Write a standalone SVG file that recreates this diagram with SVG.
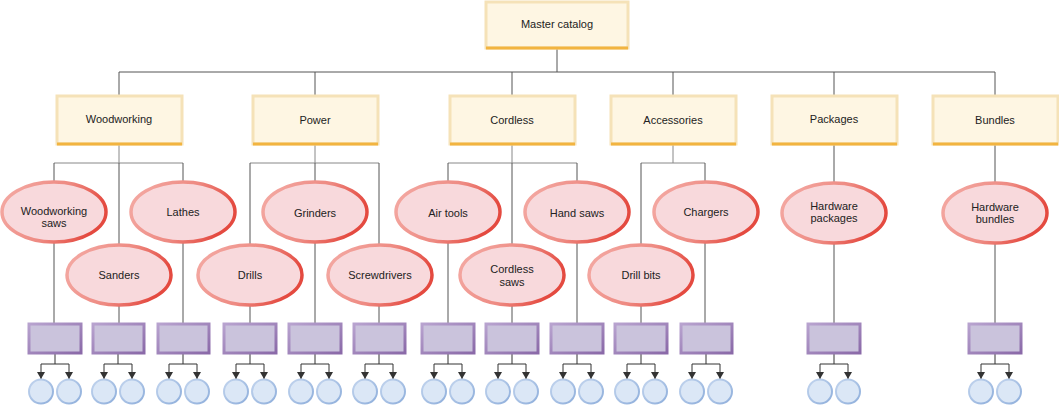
<svg xmlns="http://www.w3.org/2000/svg" width="1059" height="406" viewBox="0 0 1059 406">
<defs>
<linearGradient id="gEll" x1="0" y1="0" x2="1" y2="0.3">
<stop offset="0" stop-color="#f4aca6"/><stop offset="0.6" stop-color="#ee8a82"/><stop offset="1" stop-color="#e44a40"/>
</linearGradient>
<linearGradient id="gPur" x1="0" y1="0" x2="1" y2="1">
<stop offset="0" stop-color="#b8a3cf"/><stop offset="1" stop-color="#8a69a8"/>
</linearGradient>
<linearGradient id="gCir" x1="0" y1="0" x2="1" y2="1">
<stop offset="0" stop-color="#c3d5ee"/><stop offset="1" stop-color="#8eaedb"/>
</linearGradient>
<marker id="arr" viewBox="0 0 8 8" refX="4" refY="8" markerWidth="8" markerHeight="8" markerUnits="userSpaceOnUse" orient="auto-start-reverse">
<path d="M0,0 L8,0 L4,8 Z" fill="#333" transform="rotate(-90 4 4)"/>
</marker>
<marker id="ah" viewBox="0 0 8 7" refX="4" refY="7" markerWidth="8" markerHeight="7" markerUnits="userSpaceOnUse" orient="0">
<path d="M0,0 L8,0 L4,7 Z" fill="#333"/>
</marker>
</defs>
<style>
.t{font-family:"Liberation Sans",Arial,Helvetica,sans-serif;font-size:11px;fill:#222;text-anchor:middle;dominant-baseline:central}
.yb{fill:#fef6e3;stroke:#f5e2b8;stroke-width:3}
.yl{stroke:#f2b440;stroke-width:3}
.el{fill:#f8d9dc;stroke:url(#gEll);stroke-width:3.5}
.pb{fill:#cac3dc;stroke:url(#gPur);stroke-width:3}
.ci{fill:#dbe7f6;stroke:url(#gCir);stroke-width:2}
.c{fill:none;stroke:#555;stroke-width:1}
.cg{fill:none;stroke:#888;stroke-width:1}
.ca{fill:none;stroke:#333;stroke-width:1}
</style>
<g id="connectors">
<path class="c" d="M557,49 V72 M119,72 H995 M119,72 V95 M315,72 V95 M512,72 V95 M673,72 V95 M834,72 V95 M995,72 V95"/>
<path class="cg" d="M119,145 V163 M54,163 H183 M315,145 V163 M250,163 H379 M512,145 V163 M448,163 H577 M673,145 V163 M641,163 H705"/>
<path class="c" d="M54,163 V323 M119,163 V323 M183,163 V323 M250,163 V323 M315,163 V323 M379,163 V323 M448,163 V323 M512,163 V323 M577,163 V323 M641,163 V323 M705,163 V323 M834,145 V323 M995,145 V323"/>
<g id="fanouts" class="ca">
<path d="M55,354 V364 M41,364 H69"/><path d="M41,364 V379" marker-end="url(#ah)"/><path d="M69,364 V379" marker-end="url(#ah)"/>
<path d="M118,354 V364 M104,364 H132"/><path d="M104,364 V379" marker-end="url(#ah)"/><path d="M132,364 V379" marker-end="url(#ah)"/>
<path d="M183,354 V364 M169,364 H197"/><path d="M169,364 V379" marker-end="url(#ah)"/><path d="M197,364 V379" marker-end="url(#ah)"/>
<path d="M250,354 V364 M236,364 H264"/><path d="M236,364 V379" marker-end="url(#ah)"/><path d="M264,364 V379" marker-end="url(#ah)"/>
<path d="M315,354 V364 M301,364 H329"/><path d="M301,364 V379" marker-end="url(#ah)"/><path d="M329,364 V379" marker-end="url(#ah)"/>
<path d="M379,354 V364 M365,364 H393"/><path d="M365,364 V379" marker-end="url(#ah)"/><path d="M393,364 V379" marker-end="url(#ah)"/>
<path d="M448,354 V364 M434,364 H462"/><path d="M434,364 V379" marker-end="url(#ah)"/><path d="M462,364 V379" marker-end="url(#ah)"/>
<path d="M512,354 V364 M498,364 H526"/><path d="M498,364 V379" marker-end="url(#ah)"/><path d="M526,364 V379" marker-end="url(#ah)"/>
<path d="M577,354 V364 M563,364 H591"/><path d="M563,364 V379" marker-end="url(#ah)"/><path d="M591,364 V379" marker-end="url(#ah)"/>
<path d="M641,354 V364 M627,364 H655"/><path d="M627,364 V379" marker-end="url(#ah)"/><path d="M655,364 V379" marker-end="url(#ah)"/>
<path d="M706,354 V364 M692,364 H720"/><path d="M692,364 V379" marker-end="url(#ah)"/><path d="M720,364 V379" marker-end="url(#ah)"/>
<path d="M834,354 V364 M820,364 H848"/><path d="M820,364 V379" marker-end="url(#ah)"/><path d="M848,364 V379" marker-end="url(#ah)"/>
<path d="M995,354 V364 M981,364 H1009"/><path d="M981,364 V379" marker-end="url(#ah)"/><path d="M1009,364 V379" marker-end="url(#ah)"/>
</g>
</g>
<g id="master"><rect class="yb" x="486" y="2" width="142" height="46"/><line class="yl" x1="486" y1="48" x2="628" y2="48"/><text class="t" x="557" y="24">Master catalog</text></g>
<g id="woodworking"><rect class="yb" x="57" y="96" width="125" height="48"/><line class="yl" x1="57" y1="144" x2="182" y2="144"/><text class="t" x="119" y="119">Woodworking</text></g>
<g id="power"><rect class="yb" x="253" y="96" width="125" height="48"/><line class="yl" x1="253" y1="144" x2="378" y2="144"/><text class="t" x="315" y="120">Power</text></g>
<g id="cordless"><rect class="yb" x="450" y="96" width="125" height="48"/><line class="yl" x1="450" y1="144" x2="575" y2="144"/><text class="t" x="512" y="120">Cordless</text></g>
<g id="accessories"><rect class="yb" x="611" y="96" width="125" height="48"/><line class="yl" x1="611" y1="144" x2="736" y2="144"/><text class="t" x="673" y="120">Accessories</text></g>
<g id="packages"><rect class="yb" x="772" y="96" width="125" height="48"/><line class="yl" x1="772" y1="144" x2="897" y2="144"/><text class="t" x="834" y="119">Packages</text></g>
<g id="bundles"><rect class="yb" x="933" y="96" width="125" height="48"/><line class="yl" x1="933" y1="144" x2="1058" y2="144"/><text class="t" x="995" y="120">Bundles</text></g>
<g id="woodworking-saws"><ellipse class="el" cx="54" cy="212" rx="52" ry="30"/><text class="t" x="54" y="211">Woodworking</text><text class="t" x="54" y="223">saws</text></g>
<g id="lathes"><ellipse class="el" cx="183" cy="212" rx="52" ry="30"/><text class="t" x="183" y="212">Lathes</text></g>
<g id="sanders"><ellipse class="el" cx="119" cy="275" rx="52" ry="30"/><text class="t" x="119" y="275">Sanders</text></g>
<g id="grinders"><ellipse class="el" cx="315" cy="212" rx="52" ry="30"/><text class="t" x="315" y="213">Grinders</text></g>
<g id="drills"><ellipse class="el" cx="250" cy="275" rx="52" ry="30"/><text class="t" x="250" y="275">Drills</text></g>
<g id="screwdrivers"><ellipse class="el" cx="380" cy="275" rx="52" ry="30"/><text class="t" x="380" y="275">Screwdrivers</text></g>
<g id="air-tools"><ellipse class="el" cx="448" cy="212" rx="52" ry="30"/><text class="t" x="448" y="213">Air tools</text></g>
<g id="hand-saws"><ellipse class="el" cx="577" cy="212" rx="52" ry="30"/><text class="t" x="577" y="213">Hand saws</text></g>
<g id="cordless-saws"><ellipse class="el" cx="512" cy="275" rx="52" ry="30"/><text class="t" x="512" y="269">Cordless</text><text class="t" x="512" y="282">saws</text></g>
<g id="drill-bits"><ellipse class="el" cx="641" cy="275" rx="52" ry="30"/><text class="t" x="641" y="275">Drill bits</text></g>
<g id="chargers"><ellipse class="el" cx="706" cy="212" rx="52" ry="30"/><text class="t" x="706" y="212">Chargers</text></g>
<g id="hardware-packages"><ellipse class="el" cx="834" cy="213" rx="52" ry="30"/><text class="t" x="834" y="206">Hardware</text><text class="t" x="834" y="218">packages</text></g>
<g id="hardware-bundles"><ellipse class="el" cx="995" cy="213" rx="52" ry="30"/><text class="t" x="995" y="207">Hardware</text><text class="t" x="995" y="219">bundles</text></g>
<g id="leaf-boxes">
<rect class="pb" x="29" y="324" width="52" height="29"/>
<rect class="pb" x="93" y="324" width="51" height="29"/>
<rect class="pb" x="158" y="324" width="51" height="29"/>
<rect class="pb" x="224" y="324" width="52" height="29"/>
<rect class="pb" x="289" y="324" width="52" height="29"/>
<rect class="pb" x="354" y="324" width="51" height="29"/>
<rect class="pb" x="422" y="324" width="52" height="29"/>
<rect class="pb" x="486" y="324" width="52" height="29"/>
<rect class="pb" x="551" y="324" width="52" height="29"/>
<rect class="pb" x="615" y="324" width="52" height="29"/>
<rect class="pb" x="681" y="324" width="51" height="29"/>
<rect class="pb" x="808" y="324" width="52" height="29"/>
<rect class="pb" x="969" y="324" width="52" height="29"/>
</g>
<g id="leaf-circles">
<circle class="ci" cx="41" cy="391.5" r="12"/><circle class="ci" cx="69" cy="391.5" r="12"/>
<circle class="ci" cx="104" cy="391.5" r="12"/><circle class="ci" cx="132" cy="391.5" r="12"/>
<circle class="ci" cx="169" cy="391.5" r="12"/><circle class="ci" cx="197" cy="391.5" r="12"/>
<circle class="ci" cx="236" cy="391.5" r="12"/><circle class="ci" cx="264" cy="391.5" r="12"/>
<circle class="ci" cx="301" cy="391.5" r="12"/><circle class="ci" cx="329" cy="391.5" r="12"/>
<circle class="ci" cx="365" cy="391.5" r="12"/><circle class="ci" cx="393" cy="391.5" r="12"/>
<circle class="ci" cx="434" cy="391.5" r="12"/><circle class="ci" cx="462" cy="391.5" r="12"/>
<circle class="ci" cx="498" cy="391.5" r="12"/><circle class="ci" cx="526" cy="391.5" r="12"/>
<circle class="ci" cx="563" cy="391.5" r="12"/><circle class="ci" cx="591" cy="391.5" r="12"/>
<circle class="ci" cx="627" cy="391.5" r="12"/><circle class="ci" cx="655" cy="391.5" r="12"/>
<circle class="ci" cx="692" cy="391.5" r="12"/><circle class="ci" cx="720" cy="391.5" r="12"/>
<circle class="ci" cx="820" cy="391.5" r="12"/><circle class="ci" cx="848" cy="391.5" r="12"/>
<circle class="ci" cx="981" cy="391.5" r="12"/><circle class="ci" cx="1009" cy="391.5" r="12"/>
</g>
</svg>
